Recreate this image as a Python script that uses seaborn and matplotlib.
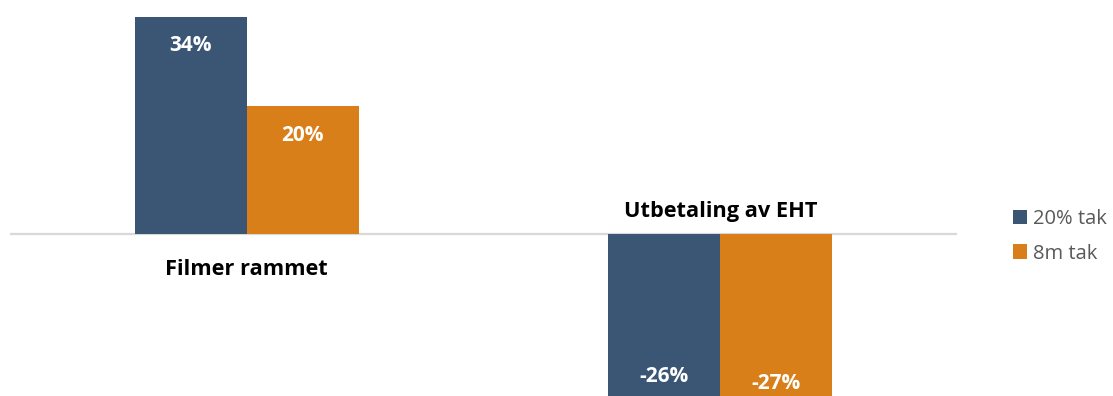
import matplotlib
matplotlib.use("Agg")
import matplotlib.pyplot as plt
import seaborn as sns
import pandas as pd

categories = ["Filmer rammet", "Utbetaling av EHT"]
series = ["20% tak", "8m tak"]
values_20pct = [34, -26]
values_8m = [20, -27]
colors = ["#3A5674", "#D87F19"]

df = pd.DataFrame({
    "kategori": categories * 2,
    "serie": [series[0]] * 2 + [series[1]] * 2,
    "verdi": values_20pct + values_8m,
})

sns.set_theme(style="white")
plt.rcParams["font.family"] = ["Open Sans", "DejaVu Sans"]

fig = plt.figure(figsize=(11.13, 3.96), dpi=100)
ax = fig.add_axes([10 / 1113, 0, 947 / 1113, 1])

sns.barplot(data=df, x="kategori", y="verdi", hue="serie", order=categories,
            hue_order=series, palette=colors, width=0.473, saturation=1,
            linewidth=0, ax=ax, legend=True)

ax.set_xlim(-0.5, 1.5)
ax.set_ylim(-25.4, 36.7)
ax.axhline(0, color="#D9D9D9", lw=1.6, zorder=0.5)
for s in ax.spines.values():
    s.set_visible(False)
ax.set_xticks([])
ax.set_yticks([])
ax.set_xlabel("")
ax.set_ylabel("")

# value labels inside bar ends
for cont in ax.containers:
    for bar in cont:
        v = bar.get_height()
        x = bar.get_x() + bar.get_width() / 2
        y = v - 4.5 if v > 0 else v + 3.6
        ax.text(x, y, f"{v:.0f}%", ha="center", va="center", color="white",
                fontsize=15, fontweight="bold")

# category labels sit on the side of the axis opposite the bars
cat_vals = [max(a, b) if a > 0 else min(a, b) for a, b in zip(values_20pct, values_8m)]
for i, (cat, v) in enumerate(zip(categories, cat_vals)):
    ypos = -5.6 if v > 0 else 3.6
    ax.text(i, ypos, cat, ha="center", va="center", color="black",
            fontsize=15.7, fontweight="bold")

handles, labels = ax.get_legend_handles_labels()
ax.get_legend().remove()
leg = fig.legend(handles, labels, loc="center left",
                 bbox_to_anchor=(1013 / 1113, 1 - 236.5 / 396), frameon=False,
                 borderpad=0, borderaxespad=0,
                 handlelength=0.7, handleheight=0.7, handletextpad=0.3,
                 labelspacing=0.7, fontsize=14.5)
for t in leg.get_texts():
    t.set_color("#595959")

fig.savefig("out.png", dpi=100)
